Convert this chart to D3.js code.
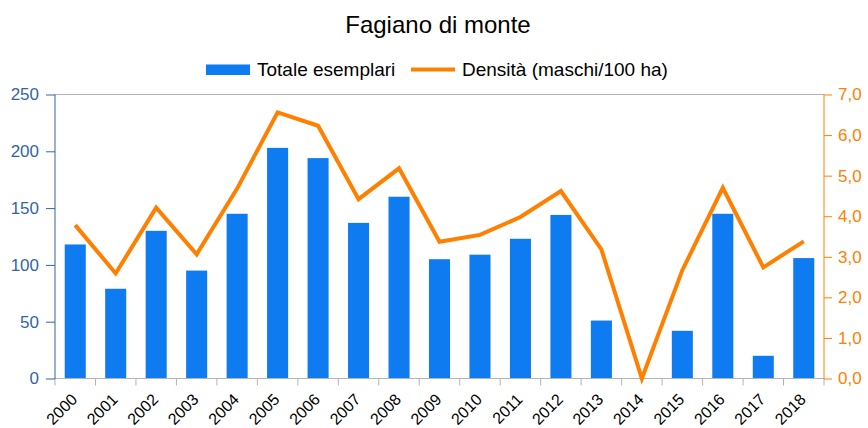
<!DOCTYPE html>
<html>
<head>
<meta charset="utf-8">
<script src="https://cdn.jsdelivr.net/npm/d3@7/dist/d3.min.js"></script>
<style>
  body { margin: 0; background: #fff; }
  svg text { font-family: "Liberation Sans", Arial, sans-serif; }
</style>
</head>
<body>
<div id="chart"></div>
<script>
// Data
const years = ["2000", "2001", "2002", "2003", "2004", "2005", "2006", "2007", "2008", "2009",
               "2010", "2011", "2012", "2013", "2014", "2015", "2016", "2017", "2018"];
const totaleEsemplari = [118, 79, 130, 95, 145, 203, 194, 137, 160, 105, 109, 123, 144, 51, 0, 42, 145, 20, 106];
const densita = [3.78, 2.59, 4.21, 3.06, 4.68, 6.56, 6.23, 4.42, 5.18, 3.37, 3.54, 3.98, 4.62, 3.18, 0, 2.67, 4.70, 2.74, 3.38];
const leftTicks = [0, 50, 100, 150, 200, 250];
const rightTicks = [0, 1, 2, 3, 4, 5, 6, 7];

const W = 868, H = 428;
const margin = { top: 94.5, right: 44, bottom: 49.5, left: 55 };
const width = W - margin.left - margin.right;
const height = H - margin.top - margin.bottom;

const blue = "#0f7bf0", orange = "#ff8000", axisBlue = "#3465a4", grey = "#b3b3b3";

const svg = d3.select("#chart").append("svg")
    .attr("width", W).attr("height", H);

// Title
svg.append("text")
    .attr("x", W / 2 + 4).attr("y", 33)
    .attr("text-anchor", "middle")
    .style("font-size", "24px")
    .attr("fill", "#000")
    .text("Fagiano di monte");

// Legend
const legend = svg.append("g");
legend.append("rect").attr("x", 206).attr("y", 64.5).attr("width", 44).attr("height", 10.5).attr("fill", blue);
legend.append("text").attr("x", 257).attr("y", 76).style("font-size", "19px").text("Totale esemplari");
legend.append("line").attr("x1", 411).attr("x2", 455).attr("y1", 69.5).attr("y2", 69.5)
    .attr("stroke", orange).attr("stroke-width", 4);
legend.append("text").attr("x", 462).attr("y", 76).style("font-size", "19px").text("Densità (maschi/100 ha)");

const g = svg.append("g").attr("transform", `translate(${margin.left},${margin.top})`);

// Scales
const x = d3.scaleBand().domain(years).range([0, width]).paddingInner(0).paddingOuter(0);
const yL = d3.scaleLinear().domain([0, 250]).range([height, 0]);
const yR = d3.scaleLinear().domain([0, 7]).range([height, 0]);

// top grid line
g.append("line").attr("x1", 0).attr("x2", width).attr("y1", 0).attr("y2", 0)
    .attr("stroke", grey).attr("stroke-width", 1);

// Bars
const barW = x.bandwidth() * 0.52;
g.selectAll(".bar").data(years.map((y, i) => ({ year: y, v: totaleEsemplari[i] })))
    .enter().append("rect")
    .attr("class", "bar")
    .attr("x", d => x(d.year) + (x.bandwidth() - barW) / 2)
    .attr("y", d => yL(d.v))
    .attr("width", barW)
    .attr("height", d => height - yL(d.v))
    .attr("fill", blue);

// X axis
const xAxis = g.append("g").attr("transform", `translate(0,${height})`);
xAxis.append("line").attr("x1", 0).attr("x2", width).attr("stroke", grey);
xAxis.selectAll(".xt").data(d3.range(years.length + 1)).enter().append("line")
    .attr("x1", i => i * x.step()).attr("x2", i => i * x.step())
    .attr("y1", 0).attr("y2", 7).attr("stroke", grey);
xAxis.selectAll(".xl").data(years).enter().append("text")
    .attr("transform", d => `translate(${x(d) + x.bandwidth() / 2 + 3},${22}) rotate(-45)`)
    .attr("text-anchor", "end")
    .style("font-size", "16px")
    .attr("fill", "#000")
    .text(d => d);

// Left axis
const la = g.append("g").call(d3.axisLeft(yL).tickValues(leftTicks).tickSize(9).tickPadding(7));
la.select(".domain").attr("stroke", axisBlue).attr("d", `M0,${height + 0.5}V0`);
la.selectAll(".tick line").attr("stroke", axisBlue);
la.selectAll(".tick text").attr("fill", axisBlue).style("font-size", "17px")
    .style("font-family", "'Liberation Sans', Arial, sans-serif");

// Right axis
const ra = g.append("g").attr("transform", `translate(${width},0)`)
    .call(d3.axisRight(yR).tickValues(rightTicks).tickSize(8).tickPadding(6)
        .tickFormat(d => d3.format(".1f")(d).replace(".", ",")));
ra.select(".domain").attr("stroke", orange).attr("d", `M0,${height + 0.5}V0`);
ra.selectAll(".tick line").attr("stroke", orange);
ra.selectAll(".tick text").attr("fill", orange).style("font-size", "17px")
    .style("font-family", "'Liberation Sans', Arial, sans-serif");

// Line
const line = d3.line()
    .x((d, i) => x(years[i]) + x.bandwidth() / 2)
    .y(d => yR(d));
g.append("path").datum(densita)
    .attr("d", line)
    .attr("fill", "none")
    .attr("stroke", orange)
    .attr("stroke-width", 4)
    .attr("stroke-linejoin", "miter");
</script>
</body>
</html>
